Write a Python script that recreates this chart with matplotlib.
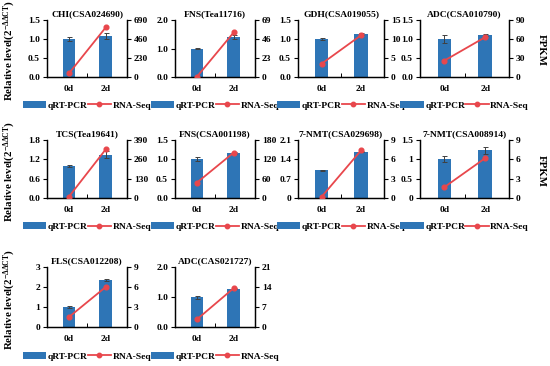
import numpy as np
import matplotlib
matplotlib.use('Agg')
import matplotlib.pyplot as plt
from matplotlib.patches import Patch
from matplotlib.lines import Line2D

# -------------------- data -------------------- #
days = ['0d', '2d']

titles = ['CHI(CSA024690)', 'FNS(Tea11716)', 'GDH(CSA019055)', 'ADC(CSA010790)',
          'TCS(Tea19641)', 'FNS(CSA001198)', '7-NMT(CSA029698)', '7-NMT(CSA008914)',
          'FLS(CSA012208)', 'ADC(CAS021727)']

qrt_pcr = [[1.0, 1.08], [1.0, 1.40], [1.0, 1.13], [1.0, 1.10],
           [1.0, 1.35], [1.0, 1.17], [1.0, 1.68], [1.0, 1.23],
           [1.0, 2.35], [1.0, 1.28]]
qrt_err = [[0.04, 0.07], [0.03, 0.08], [0.02, 0.02], [0.10, 0.03],
           [0.03, 0.10], [0.05, 0.02], [0.03, 0.03], [0.08, 0.10],
           [0.04, 0.03], [0.05, 0.02]]
rna_seq = [[45, 600], [0.5, 54], [3.5, 11.0], [26, 63],
           [10, 327], [48, 141], [0.2, 7.4], [1.7, 6.2],
           [1.5, 6.0], [2.7, 13.6]]

left_ticks = [[0.0, 0.5, 1.0, 1.5], [0.0, 1.0, 2.0], [0.0, 0.5, 1.0, 1.5], [0.0, 0.5, 1.0, 1.5],
              [0.0, 0.6, 1.2, 1.8], [0.0, 0.5, 1.0, 1.5], [0, 0.7, 1.4, 2.1], [0, 0.5, 1, 1.5],
              [0, 1, 2, 3], [0.0, 1.0, 2.0]]
left_labels = [['0.0', '0.5', '1.0', '1.5'], ['0.0', '1.0', '2.0'], ['0.0', '0.5', '1.0', '1.5'],
               ['0.0', '0.5', '1.0', '1.5'], ['0.0', '0.6', '1.2', '1.8'], ['0.0', '0.5', '1.0', '1.5'],
               ['0', '0.7', '1.4', '2.1'], ['0', '0.5', '1', '1.5'], ['0', '1', '2', '3'],
               ['0.0', '1.0', '2.0']]
right_ticks = [[0, 230, 460, 690], [0, 23, 46, 69], [0, 5, 10, 15], [0, 30, 60, 90],
               [0, 130, 260, 390], [0, 60, 120, 180], [0, 3, 6, 9], [0, 3, 6, 9],
               [0, 3, 6, 9], [0, 7, 14, 21]]

# -------------------- layout (pixels) -------------------- #
W, H = 550, 366
cols = [(47, 127), (175, 255), (298, 384), (420, 509)]
rows = [(20, 77), (140, 198), (267, 327)]

bar_color = '#2E75B6'
line_color = '#E8474C'
fs = 6.8

plt.rcParams['font.family'] = ['Liberation Serif', 'DejaVu Serif']
plt.rcParams['font.weight'] = 'bold'
plt.rcParams['mathtext.fontset'] = 'custom'
plt.rcParams['mathtext.rm'] = 'Liberation Serif:bold'
plt.rcParams['mathtext.it'] = 'Liberation Serif:bold'
plt.rcParams['mathtext.bf'] = 'Liberation Serif:bold'
plt.rcParams['axes.linewidth'] = 0.9

fig = plt.figure(figsize=(W / 100, H / 100), dpi=100)

x = np.arange(len(days))
for i, title in enumerate(titles):
    r, c = divmod(i, 4)
    x0, x1 = cols[c]
    y0, y1 = rows[r]
    ax = fig.add_axes([x0 / W, 1 - y1 / H, (x1 - x0) / W, (y1 - y0) / H])
    ax.bar(x, qrt_pcr[i], width=0.34, color=bar_color, zorder=2)
    ax.errorbar(x, qrt_pcr[i], yerr=qrt_err[i], fmt='none', ecolor='#404040',
                elinewidth=0.7, capsize=1.8, capthick=0.7, zorder=3)
    ax.set_xlim(-0.6, 1.58)
    ax.set_ylim(left_ticks[i][0], left_ticks[i][-1])
    ax.set_yticks(left_ticks[i])
    ax.set_yticklabels(left_labels[i])
    ax.set_xticks(x)
    ax.set_xticklabels(days)
    ax.set_xticks([0.5], minor=True)
    ax.tick_params(axis='x', which='major', length=0, pad=5.5, labelsize=fs)
    ax.tick_params(axis='x', which='minor', length=3, direction='in', width=0.7)
    ax.tick_params(axis='y', length=3, width=0.8, labelsize=fs, pad=2)
    ax.spines['top'].set_visible(False)
    ax.set_title(title, fontsize=fs, fontweight='bold', pad=3)

    ax2 = ax.twinx()
    ax2.plot(x, rna_seq[i], color=line_color, marker='o', markersize=3.4, linewidth=1.3, zorder=4)
    ax2.set_ylim(right_ticks[i][0], right_ticks[i][-1])
    ax2.set_yticks(right_ticks[i])
    ax2.tick_params(axis='y', length=3, width=0.8, labelsize=fs, pad=2)
    ax2.spines['top'].set_visible(False)

    handles = [Patch(facecolor=bar_color, edgecolor='none'),
               Line2D([0], [0], color=line_color, marker='o', markersize=3.2, linewidth=1.3)]
    ax.legend(handles, ['qRT-PCR', 'RNA-Seq'], loc='upper center', bbox_to_anchor=(0.5, -0.34),
              ncol=2, frameon=False, fontsize=fs, handlelength=2.5, handleheight=0.7,
              columnspacing=0.0, handletextpad=0.15, borderpad=0)

# shared axis labels
ylabel = r'Relative level(2$^{-\Delta\Delta CT}$)'
for (y0, y1) in rows:
    fig.text(10 / W, 1 - (y0 + y1 + 4) / 2 / H, ylabel, rotation=90, ha='center', va='center',
             fontsize=7.8, fontweight='bold')
for (y0, y1) in rows[:2]:
    fig.text(541 / W, 1 - (y0 + y1 + 4) / 2 / H, 'FPKM', rotation=270, ha='center', va='center',
             fontsize=7.8, fontweight='bold')

fig.savefig('out.png', dpi=100)
